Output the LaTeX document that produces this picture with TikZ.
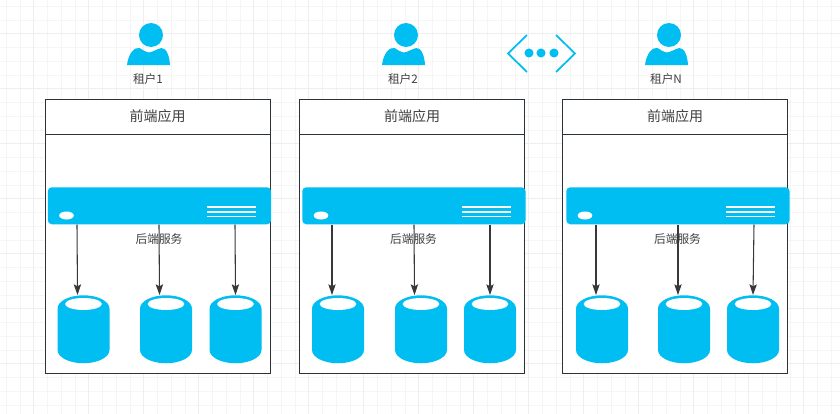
\documentclass[tikz,border=0pt]{standalone}
\usepackage{fontspec}
\setmainfont{Noto Sans CJK SC}
\usetikzlibrary{shapes.geometric,arrows.meta,calc}
\definecolor{iconblue}{HTML}{00BEF2}
\definecolor{boxline}{HTML}{2B3338}
\definecolor{gridminor}{HTML}{F5F5F5}
\definecolor{gridmajor}{HTML}{EEEEEE}
\begin{document}
\begin{tikzpicture}[x=0.75pt,y=-0.75pt,
  panel/.style={rectangle,draw=boxline,line width=0.85pt,fill=white,minimum width=168.75pt,
    minimum height=#1,inner sep=0pt,anchor=north west,text=black!75,font=\fontsize{10.5}{12}\selectfont},
  srv/.style={rectangle,rounded corners=3pt,fill=iconblue,minimum width=167.5pt,
    minimum height=27.75pt,inner sep=0pt,anchor=north west},
  srvled/.style={ellipse,fill=white,minimum width=11pt,minimum height=6pt,inner sep=0pt},
  db/.style={cylinder,shape border rotate=90,aspect=2,fill=iconblue,minimum width=39pt,
    minimum height=51pt,inner xsep=5pt,inner ysep=0pt,anchor=north},
  dbtop/.style={ellipse,fill=white,minimum width=27.5pt,minimum height=9pt,inner sep=0pt},
  lbl/.style={inner sep=0pt,text=black!75,font=\fontsize{8.8}{10}\selectfont},
  dot/.style={circle,fill=iconblue,minimum size=6.8pt,inner sep=0pt},
  flow/.style={-{Stealth[length=8pt,width=5.5pt,inset=1.5pt]},draw=black!78,line width=0.8pt},
  user/.pic={
    \fill[iconblue] (2.5,-13) circle (12);
    \fill[iconblue] (-21.5,17) .. controls (-20,5) and (-14,-1) .. (-9,0)
      .. controls (-5,2) and (-3,4.5) .. (0,4.5) .. controls (4,4.5) and (8,1) .. (13,0)
      .. controls (18,0) and (21,8) .. (21.5,17) -- cycle;
  }
]
\useasboundingbox (0,0) rectangle (840,414);
% Grid
\fill[white] (0,0) rectangle (840,414);
\foreach \gx in {0,...,61} \draw[gridminor,line width=0.6pt] ({6.25+13.75*\gx},0)--++(0,414);
\foreach \gy in {0,...,30} \draw[gridminor,line width=0.6pt] (0,{6.25+13.75*\gy})--++(840,0);
\foreach \gx in {0,...,15} \draw[gridmajor,line width=0.9pt] ({33.5+55*\gx},0)--++(0,414);
\foreach \gy in {0,...,7} \draw[gridmajor,line width=0.9pt] (0,{33.5+55*\gy})--++(840,0);

% Tenants
\pic (user1) at (148.5,48) {user};
\pic (user2) at (403.5,48) {user};
\pic (user3) at (666.5,48) {user};
\node[lbl] (name1) at (148,79) {租户1};
\node[lbl] (name2) at (403,79) {租户2};
\node[lbl] (name3) at (666,79) {租户N};

% More tenants
\draw[iconblue,line width=1.3pt] (527,35)--(508,53.5)--(527,72);
\draw[iconblue,line width=1.3pt] (556,35)--(575,53.5)--(556,72);
\node[dot] (dot1) at (529,53) {};
\node[dot] (dot2) at (541,53) {};
\node[dot] (dot3) at (554,53) {};

% Panels
\node[panel=205.5pt] (body1) at (44.5,98.5) {};
\node[panel=205.5pt] (body2) at (299,98.5) {};
\node[panel=205.5pt] (body3) at (562,98.5) {};
\node[panel=26.25pt] (app1) at (44.5,98.5) {\makebox[168.75pt]{前端应用}};
\node[panel=26.25pt] (app2) at (299,98.5) {\makebox[168.75pt]{前端应用}};
\node[panel=26.25pt] (app3) at (562,98.5) {\makebox[168.75pt]{前端应用}};

% Servers
\node[srv] (srv1) at (47.5,187) {};
\node[srv] (srv2) at (302,187) {};
\node[srv] (srv3) at (566,187) {};
\node[srvled] (led1) at (66.5,215.5) {};
\node[srvled] (led2) at (321,215.5) {};
\node[srvled] (led3) at (585,215.5) {};
\foreach \sx in {207,461.5,725.5}
  \foreach \sy in {207,212,216.7}
    \draw[white,line width=1.1pt] (\sx,\sy)--++(49,0);
\node[lbl] (svc1) at (159,239) {后端服务};
\node[lbl] (svc2) at (413.5,239) {后端服务};
\node[lbl] (svc3) at (677.5,239) {后端服务};

% Storage
\node[db] (db1a) at (83.5,295) {};
\node[db] (db1b) at (166,295) {};
\node[db] (db1c) at (235.5,295) {};
\node[db] (db2a) at (338,295) {};
\node[db] (db2b) at (421,295) {};
\node[db] (db2c) at (490,295) {};
\node[db] (db3a) at (602,295) {};
\node[db] (db3b) at (684,295) {};
\node[db] (db3c) at (753,295) {};
\foreach \dbname in {db1a,db1b,db1c,db2a,db2b,db2c,db3a,db3b,db3c}
  \node[dbtop] (\dbname top) at ($(\dbname.north)+(0,9)$) {};

% Calls
\draw[flow] ($(srv1.south west)+(29.5,0)$)--($(db1a.north)+(-6,0)$);
\draw[flow] ($(srv1.south west)+(111.5,0)$)--($(db1b.north)+(-6.5,0)$);
\draw[flow] ($(srv1.south west)+(187.5,0)$)--(db1c.north);
\draw[flow] ($(srv2.south west)+(30,0)$)--($(db2a.north)+(-6,0)$);
\draw[flow] ($(srv2.south west)+(112,0)$)--($(db2b.north)+(-6.5,0)$);
\draw[flow] ($(srv2.south west)+(188,0)$)--(db2c.north);
\draw[flow] ($(srv3.south west)+(30,0)$)--($(db3a.north)+(-6,0)$);
\draw[flow] ($(srv3.south west)+(112,0)$)--($(db3b.north)+(-6,0)$);
\draw[flow] ($(srv3.south west)+(188,0)$)--(db3c.north);
\end{tikzpicture}
\end{document}
